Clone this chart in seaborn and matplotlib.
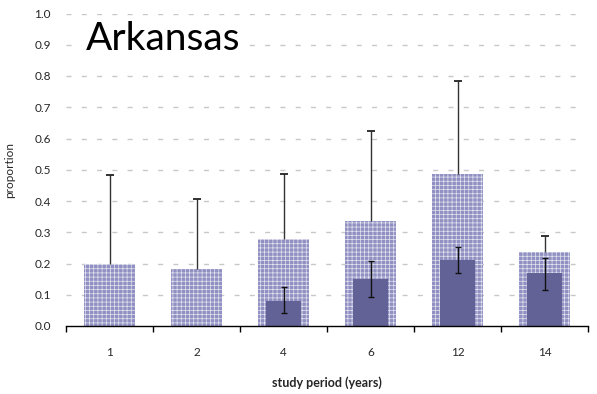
import matplotlib
matplotlib.use("Agg")
import matplotlib.pyplot as plt
import seaborn as sns
import pandas as pd
import numpy as np

# study periods (years)
periods = ["1", "2", "4", "6", "12", "14"]
# overall proportion (textured bars) and upper error
total_prop = [0.200, 0.184, 0.277, 0.335, 0.486, 0.236]
total_upper = [0.483, 0.407, 0.486, 0.623, 0.783, 0.288]
# subset proportion (solid bars) with lower/upper bounds
sub_prop = [0.0, 0.0, 0.080, 0.150, 0.211, 0.169]
sub_lower = [np.nan, np.nan, 0.041, 0.092, 0.169, 0.114]
sub_upper = [np.nan, np.nan, 0.124, 0.207, 0.253, 0.219]
yticks = [0.0, 0.1, 0.2, 0.3, 0.4, 0.5, 0.6, 0.7, 0.8, 0.9, 1.0]

sns.set_theme(style="white")
plt.rcParams["font.family"] = ["Lato", "DejaVu Sans"]
plt.rcParams["hatch.linewidth"] = 0.5

df = pd.DataFrame({"period": periods, "total": total_prop, "sub": sub_prop})

fig = plt.figure(figsize=(5.97, 3.94), dpi=100)
ax = fig.add_axes([66 / 597, 68 / 394, 522 / 597, 312.5 / 394])

# textured overall bars
sns.barplot(data=df, x="period", y="total", ax=ax, width=0.575,
            color="#9090c2", saturation=1, linewidth=0, edgecolor="#e4e4f0",
            hatch="++++", errorbar=None, zorder=2)
# solid subset bars
sns.barplot(data=df, x="period", y="sub", ax=ax, width=0.41,
            color="#626297", saturation=1, linewidth=0, errorbar=None,
            zorder=3)

pos = np.arange(len(periods))
tot = np.array(total_prop)
up = np.array(total_upper)
# upper-only whiskers for the overall bars
ax.vlines(pos, tot, up, colors="#333333", linewidth=1.0, zorder=4)
ax.plot(pos, up, linestyle="none", marker="_", markersize=6,
        markeredgewidth=1.2, color="#111111", zorder=4)

sp = np.array(sub_prop)
lo = np.array(sub_lower)
hi = np.array(sub_upper)
ax.errorbar(pos, sp, yerr=[sp - lo, hi - sp], fmt="none", ecolor="#111111",
            elinewidth=1.0, capsize=2.5, capthick=1.0, zorder=5)

ax.set_ylim(0, 1.0)
ax.set_xlim(-0.5, len(periods) - 0.5)
ax.set_yticks(yticks)
ax.set_yticklabels([f"{v:.1f}" for v in yticks], fontsize=8.5)
ax.set_xticks(pos)
ax.set_xticklabels(periods, fontsize=8.5)
ax.set_xticks(np.arange(-0.5, len(periods)), minor=True)
ax.tick_params(axis="x", which="major", length=0, pad=15)
ax.tick_params(axis="x", which="minor", length=4, width=1, color="black",
               direction="out", bottom=True)
ax.tick_params(axis="y", length=0, pad=11)

for y in yticks[1:]:
    ax.axhline(y, xmin=0, xmax=0.988, color="#c8c8c8", linewidth=1.0,
               linestyle=(0, (3.6, 7.4)), zorder=1)

for s in ["top", "right", "left"]:
    ax.spines[s].set_visible(False)
ax.spines["bottom"].set_color("black")
ax.spines["bottom"].set_linewidth(1.0)
ax.spines["bottom"].set_zorder(6)

ax.set_ylabel("proportion", fontsize=8.5, labelpad=14)
ax.set_xlabel("study period (years)", fontsize=9, fontweight="bold",
              labelpad=13)

ax.text(0.038, 0.882, "Arkansas", transform=ax.transAxes, fontsize=28,
        color="black", ha="left", va="baseline", zorder=7,
        bbox=dict(facecolor="white", edgecolor="none", pad=3))

fig.savefig("out.png", dpi=100, facecolor="white")
